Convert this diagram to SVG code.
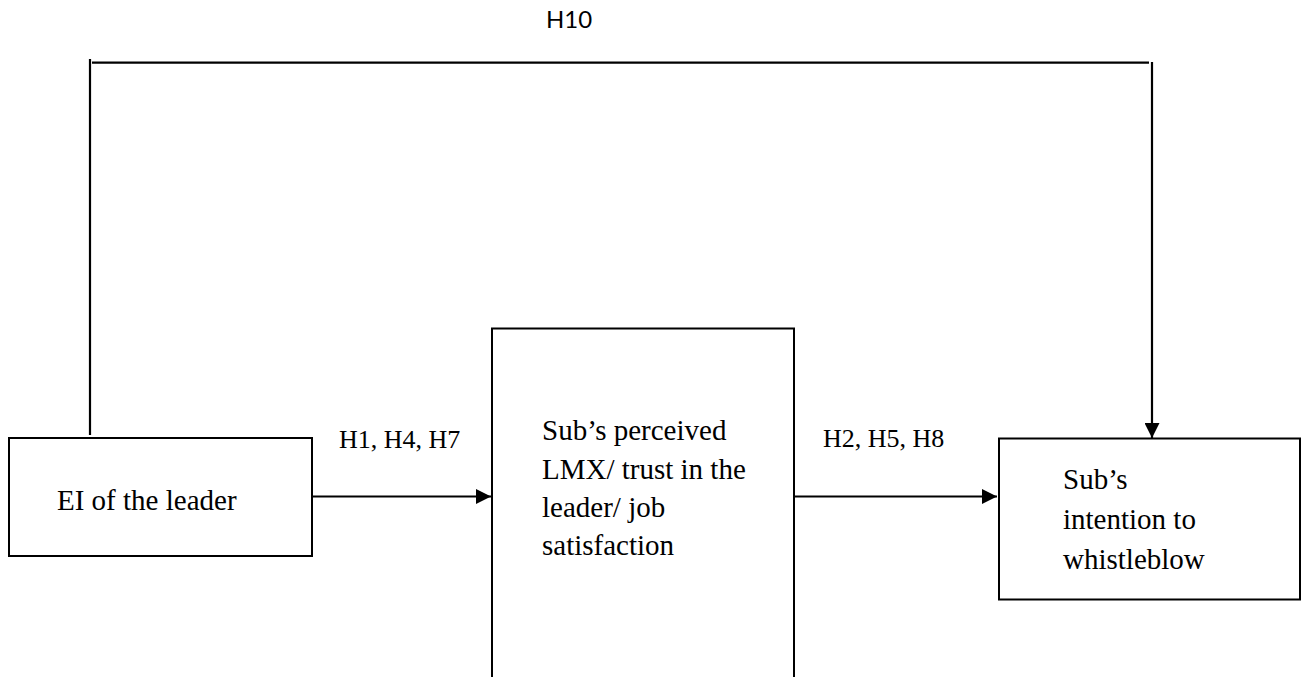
<svg xmlns="http://www.w3.org/2000/svg" width="1303" height="677" viewBox="0 0 1303 677">
  <style>
    .box { fill: #ffffff; stroke: #000000; stroke-width: 2; }
    .txt { font-family: "Liberation Serif", "Times New Roman", serif; font-size: 29px; fill: #000000; }
    .lbl { font-family: "Liberation Serif", "Times New Roman", serif; font-size: 26px; fill: #000000; }
    .lbl2 { font-family: Lato, "Open Sans", sans-serif; font-size: 24px; fill: #000000; }
    .conn { fill: none; stroke: #000000; stroke-width: 2.2; }
  </style>
  <defs>
    <marker id="arrow" viewBox="0 0 10 10" refX="10" refY="5" markerUnits="userSpaceOnUse" markerWidth="16" markerHeight="15" orient="auto">
      <path d="M0,0 L10,5 L0,10 Z" fill="#000000"/>
    </marker>
  </defs>
  <rect width="1303" height="677" fill="#ffffff"/>

  <g id="node-ei">
    <rect class="box" x="9" y="438" width="303" height="118"/>
    <text class="txt" x="57" y="510">EI of the leader</text>
  </g>

  <g id="node-mediator">
    <path class="box" d="M492,690 L492,328.5 L794,328.5 L794,690"/>
    <text class="txt" x="542" y="440">Sub’s perceived</text>
    <text class="txt" x="542" y="479">LMX/ trust in the</text>
    <text class="txt" x="542" y="517">leader/ job</text>
    <text class="txt" x="542" y="555">satisfaction</text>
  </g>

  <g id="node-outcome">
    <rect class="box" x="999" y="438.5" width="301" height="161"/>
    <text class="txt" x="1063" y="489">Sub’s</text>
    <text class="txt" x="1063" y="529">intention to</text>
    <text class="txt" x="1063" y="569">whistleblow</text>
  </g>

  <g id="connectors">
    <line class="conn" x1="90" y1="435" x2="90" y2="59"/>
    <line class="conn" x1="92" y1="62.7" x2="1149" y2="62.7"/>
    <line class="conn" x1="1152" y1="62" x2="1152" y2="438" marker-end="url(#arrow)"/>
    <line class="conn" x1="312" y1="496.5" x2="491" y2="496.5" marker-end="url(#arrow)"/>
    <line class="conn" x1="794" y1="496.5" x2="997" y2="496.5" marker-end="url(#arrow)"/>
  </g>

  <g id="labels">
    <text class="lbl2" x="546" y="28">H10</text>
    <text class="lbl" x="339" y="448">H1, H4, H7</text>
    <text class="lbl" x="823" y="447">H2, H5, H8</text>
  </g>
</svg>
